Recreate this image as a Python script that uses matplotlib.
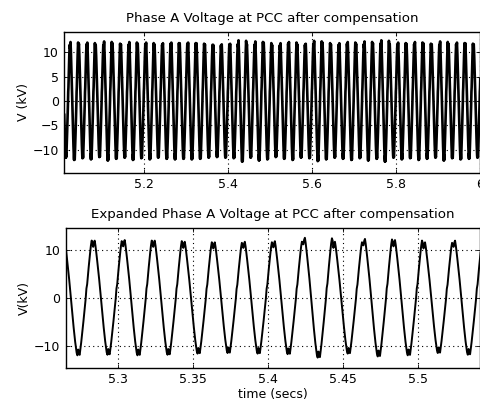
import numpy as np
import matplotlib
matplotlib.use("Agg")
import matplotlib.pyplot as plt

plt.rcParams['font.family'] = ['DejaVu Sans']

# One 20 ms cycle of the phase-A voltage, 0.5 ms steps, starting at a positive peak (kV)
cycle_kv = [10.6, 11.5, 11.9, 10.9, 9.6, 8.2, 6.8, 5.3, 3.8, 2.2,
            0.5, -1.2, -2.9, -4.6, -6.2, -7.7, -9.1, -10.3, -11.4, -11.9,
            -10.7, -11.6, -11.8, -10.6, -9.3, -7.9, -6.4, -4.9, -3.3, -1.8,
            -0.2, 1.9, 2.8, 4.6, 6.3, 7.9, 9.4, 10.8, 11.8, 11.3]

# Relative size of each successive cycle
cycle_gain = [1.00, 0.98, 1.02, 0.99, 1.01, 0.97, 1.03, 1.00, 0.98, 1.02,
              0.99, 1.01, 0.98, 1.00, 1.01, 1.00, 1.01, 1.00, 0.98, 0.97,
              0.98, 0.99, 1.05, 0.98, 1.03, 1.01, 0.97, 1.00, 1.02, 0.98,
              0.99, 1.04, 1.01, 0.98, 1.00, 1.02, 0.99, 1.03, 1.00, 1.05,
              0.98, 1.01, 0.99, 1.02, 1.00, 0.98, 1.03, 0.99, 1.01, 1.00,
              0.98, 1.02]

first_peak_s = 4.9838
period_s = 0.02

n_per_cycle = len(cycle_kv)
t = first_peak_s + np.arange(len(cycle_gain) * n_per_cycle) * period_s / n_per_cycle
v = (np.array(cycle_gain)[:, None] * np.array(cycle_kv)[None, :]).ravel()

top_xticks = [5.2, 5.4, 5.6, 5.8, 6.0]
top_xticklabels = ['5.2', '5.4', '5.6', '5.8', '6']
top_yticks = [-10, -5, 0, 5, 10]
bot_xticks = [5.3, 5.35, 5.4, 5.45, 5.5]
bot_xticklabels = ['5.3', '5.35', '5.4', '5.45', '5.5']
bot_yticks = [-10, 0, 10]

fig = plt.figure(figsize=(4.81, 4.05), dpi=100, facecolor='white')
ax1 = fig.add_axes([0.1337, 0.573, 0.8645, 0.348])
ax2 = fig.add_axes([0.1366, 0.0921, 0.8616, 0.3457])

fs = 9
title_fs = 9.6


def style(ax):
    ax.tick_params(direction='in', top=True, right=True, length=3, width=0.6,
                   labelsize=fs, pad=4, colors='black')
    for s in ax.spines.values():
        s.set_linewidth(1.0)
        s.set_color('black')
    ax.grid(True, color='black', linestyle=(0, (1, 3)), linewidth=0.8)
    ax.set_axisbelow(True)


ax1.plot(t, v, color='black', linewidth=1.9)
ax1.set_xlim(5.01, 6.0)
ax1.set_ylim(-14.8, 14.2)
ax1.set_xticks(top_xticks)
ax1.set_xticklabels(top_xticklabels)
ax1.set_yticks(top_yticks)
ax1.set_title('Phase A Voltage at PCC after compensation', fontsize=title_fs, pad=7)
ax1.set_ylabel('V (kV)', fontsize=fs, labelpad=2)
style(ax1)

ax2.plot(t, v, color='black', linewidth=1.4)
ax2.set_xlim(5.2655, 5.5415)
ax2.set_ylim(-14.6, 14.6)
ax2.set_xticks(bot_xticks)
ax2.set_xticklabels(bot_xticklabels)
ax2.set_yticks(bot_yticks)
ax2.set_title('Expanded Phase A Voltage at PCC after compensation', fontsize=title_fs, pad=7)
ax2.set_ylabel('V(kV)', fontsize=fs, labelpad=2)
ax2.set_xlabel('time (secs)', fontsize=fs, labelpad=1)
style(ax2)

fig.savefig('out.png', dpi=100, facecolor='white')
